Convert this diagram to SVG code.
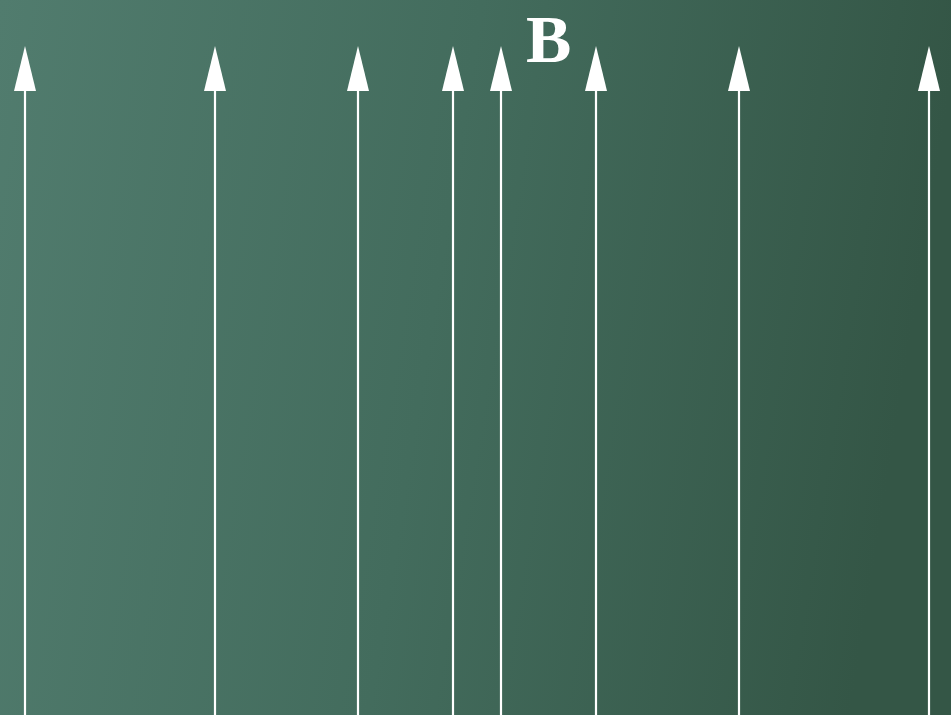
<svg xmlns="http://www.w3.org/2000/svg" width="951" height="715" viewBox="0 0 951 715">
<defs>
<linearGradient id="bg" x1="0" y1="0" x2="1" y2="0.12">
<stop offset="0" stop-color="#517c6e"/>
<stop offset="0.5" stop-color="#436c5d"/>
<stop offset="1" stop-color="#345646"/>
</linearGradient>
<style>
.fl{stroke:#ffffff;stroke-width:2.2;fill:none}
.ah{fill:#ffffff}
.lbl{font-family:"Liberation Serif",serif;font-weight:bold;fill:#ffffff}
</style>
</defs>
<rect width="951" height="715" fill="url(#bg)"/>
<g id="connectors">
<polygon class="ah" points="25,46 14,91 36,91"/>
<line class="fl" x1="25" y1="715" x2="25" y2="88"/>
<polygon class="ah" points="215,46 204,91 226,91"/>
<line class="fl" x1="215" y1="715" x2="215" y2="88"/>
<polygon class="ah" points="358,46 347,91 369,91"/>
<line class="fl" x1="358" y1="715" x2="358" y2="88"/>
<polygon class="ah" points="453,46 442,91 464,91"/>
<line class="fl" x1="453" y1="715" x2="453" y2="88"/>
<polygon class="ah" points="501,46 490,91 512,91"/>
<line class="fl" x1="501" y1="715" x2="501" y2="88"/>
<polygon class="ah" points="596,46 585,91 607,91"/>
<line class="fl" x1="596" y1="715" x2="596" y2="88"/>
<polygon class="ah" points="739,46 728,91 750,91"/>
<line class="fl" x1="739" y1="715" x2="739" y2="88"/>
<polygon class="ah" points="929,46 918,91 940,91"/>
<line class="fl" x1="929" y1="715" x2="929" y2="88"/>
</g>
<g id="label-B">
<text class="lbl" x="526" y="62" font-size="68">B</text>
</g>
</svg>
